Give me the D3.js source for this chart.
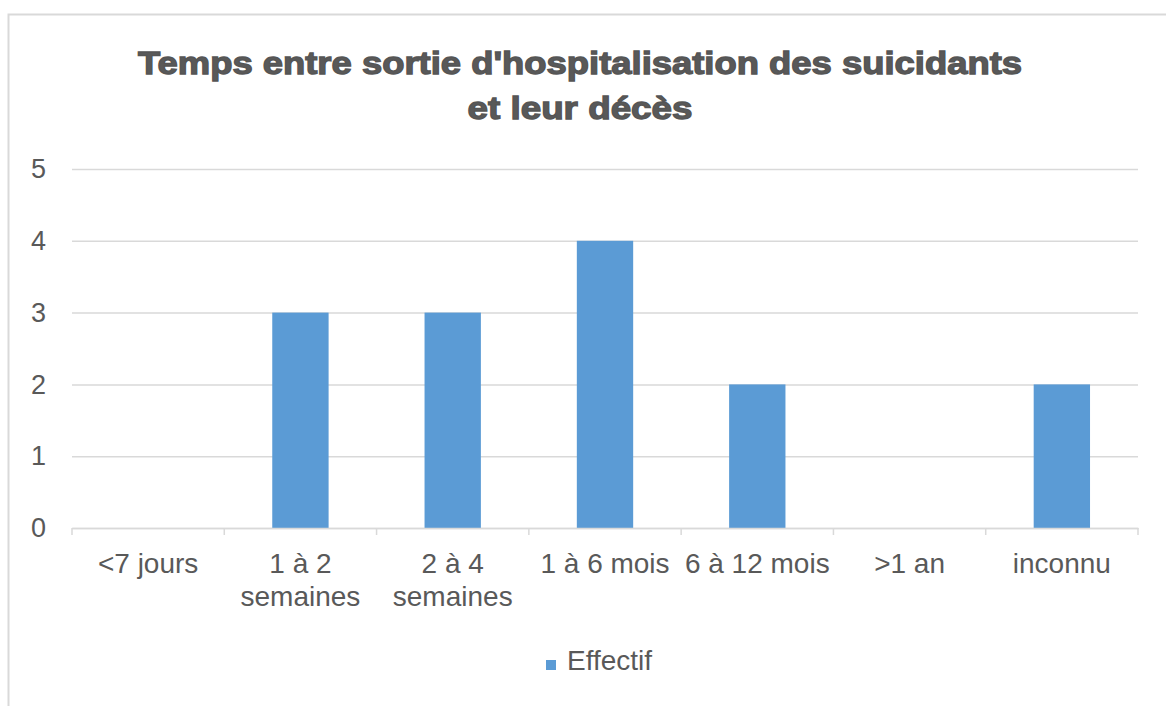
<!DOCTYPE html>
<html>
<head>
<meta charset="utf-8">
<script src="https://cdn.jsdelivr.net/npm/d3@7/dist/d3.min.js"></script>
<style>
  html, body { margin: 0; padding: 0; background: #ffffff; }
  svg { display: block; }
  text { font-family: "Liberation Sans", Arial, Helvetica, sans-serif; fill: #595959; }
</style>
</head>
<body>
<svg id="chart" width="1166" height="706"></svg>
<script>
// Chart data
const categories = ["<7 jours", "1 à 2 semaines", "2 à 4 semaines", "1 à 6 mois", "6 à 12 mois", ">1 an", "inconnu"];
const categoryLines = [["<7 jours"], ["1 à 2", "semaines"], ["2 à 4", "semaines"], ["1 à 6 mois"], ["6 à 12 mois"], [">1 an"], ["inconnu"]];
const effectif = [0, 3, 3, 4, 2, 0, 2];
const yTicks = [0, 1, 2, 3, 4, 5];
const seriesName = "Effectif";
const titleLines = ["Temps entre sortie d'hospitalisation des suicidants", "et leur décès"];

const svg = d3.select("#chart");
const plot = { left: 72, right: 1138, top: 169, bottom: 528 };
const barColor = "#5b9bd5";
const gridColor = "#d9d9d9";

// Outer chart frame
svg.append("rect")
  .attr("x", 8.5).attr("y", 14.5)
  .attr("width", 1400).attr("height", 900)
  .attr("fill", "#ffffff")
  .attr("stroke", gridColor).attr("stroke-width", 2);

// Scales
const x = d3.scaleBand()
  .domain(categories)
  .range([plot.left, plot.right])
  .paddingInner(0.63)
  .paddingOuter(0.315);

const y = d3.scaleLinear()
  .domain([0, 5])
  .range([plot.bottom, plot.top]);

// Horizontal gridlines and value labels
const yAxis = d3.axisLeft(y)
  .tickValues(yTicks)
  .tickFormat(d3.format("d"))
  .tickSize(-(plot.right - plot.left))
  .tickPadding(26);

const gy = svg.append("g")
  .attr("transform", `translate(${plot.left},0)`)
  .call(yAxis);
gy.select(".domain").remove();
gy.selectAll(".tick line").attr("stroke", gridColor).attr("stroke-width", 1.5);
gy.selectAll(".tick text")
  .attr("font-size", 27)
  .attr("fill", "#595959")
  .attr("font-family", "Liberation Sans, Arial, sans-serif");

// Bars
svg.append("g")
  .selectAll("rect")
  .data(effectif)
  .join("rect")
  .attr("x", (d, i) => x(categories[i]))
  .attr("y", d => y(d))
  .attr("width", x.bandwidth())
  .attr("height", d => y(0) - y(d))
  .attr("fill", barColor);

// Category axis
const xAxis = d3.axisBottom(x).tickSize(0).tickSizeOuter(0).tickPadding(0);
const gx = svg.append("g")
  .attr("transform", `translate(0,${plot.bottom})`)
  .call(xAxis);
gx.select(".domain").attr("stroke", gridColor).attr("stroke-width", 1.5);
gx.selectAll(".tick text").each(function (d, i) {
  const t = d3.select(this)
    .attr("font-size", 28)
    .attr("fill", "#595959")
    .attr("font-family", "Liberation Sans, Arial, sans-serif")
    .attr("dy", null)
    .attr("y", 45)
    .text(null);
  categoryLines[i].forEach((line, k) => {
    t.append("tspan").attr("x", 0).attr("y", 45 + k * 33).text(line);
  });
});

// Tick marks at category boundaries
const step = x.step();
const boundaries = d3.range(categories.length + 1).map(i => plot.left + i * step);
gx.append("g")
  .selectAll("line")
  .data(boundaries)
  .join("line")
  .attr("x1", d => d).attr("x2", d => d)
  .attr("y1", 0).attr("y2", 7)
  .attr("stroke", gridColor).attr("stroke-width", 1.5);

// Title
const title = svg.append("g");
const titleWidths = [884, 225];
titleLines.forEach((line, k) => {
  title.append("text")
    .attr("x", 580)
    .attr("y", 74 + k * 45)
    .attr("text-anchor", "middle")
    .attr("font-size", 32)
    .attr("font-weight", "bold")
    .attr("fill", "#555555")
    .attr("stroke", "#555555")
    .attr("stroke-width", 1.3)
    .attr("textLength", titleWidths[k])
    .attr("lengthAdjust", "spacingAndGlyphs")
    .text(line);
});

// Legend
const legend = svg.append("g").attr("transform", "translate(546,660)");
legend.append("rect")
  .attr("x", 0).attr("y", 0)
  .attr("width", 10).attr("height", 10)
  .attr("fill", barColor);
legend.append("text")
  .attr("x", 21)
  .attr("y", 10)
  .attr("font-size", 28)
  .text(seriesName);
</script>
</body>
</html>
